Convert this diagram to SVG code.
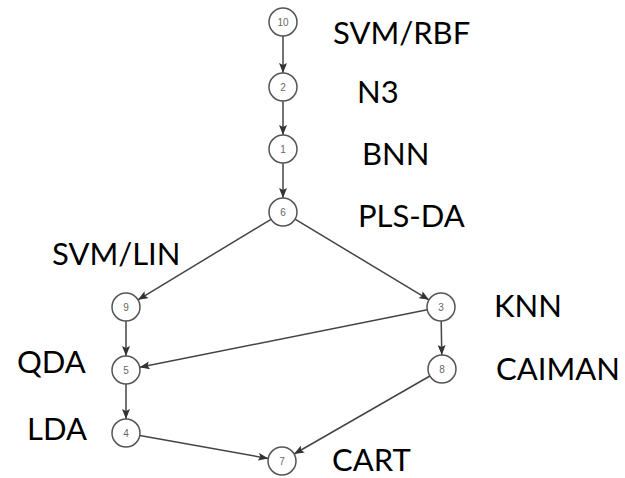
<svg xmlns="http://www.w3.org/2000/svg" width="625" height="478" viewBox="0 0 625 478">
  <style>
    .node circle { fill: #ffffff; stroke: #555555; stroke-width: 1.5; }
    .node text { font-family: "Liberation Sans", Arial, sans-serif; font-size: 10px; fill: #666666; text-anchor: middle; dominant-baseline: central; }
    .edges line { stroke: #444444; stroke-width: 1.5; fill: none; marker-end: url(#arrow); }
    .label { font-family: Lato, "Open Sans", sans-serif; font-size: 31px; fill: #000000; }
  </style>
  <defs>
    <marker id="arrow" markerUnits="userSpaceOnUse" markerWidth="10" markerHeight="8" refX="10" refY="4" orient="auto">
      <path d="M0,0 L10,4 L0,8 L2,4 z" fill="#333333"/>
    </marker>
  </defs>

  <rect width="625" height="478" fill="#ffffff"/>

  <g class="edges">
    <line x1="283" y1="36" x2="283" y2="73"/>
    <line x1="283" y1="101" x2="283" y2="135"/>
    <line x1="283" y1="163" x2="283" y2="198"/>
    <line x1="271" y1="219.3" x2="138" y2="299.8"/>
    <line x1="295" y1="219.2" x2="429" y2="299.8"/>
    <line x1="126" y1="321" x2="126" y2="356"/>
    <line x1="427.3" y1="309.8" x2="139.7" y2="367.3"/>
    <line x1="441.2" y1="321" x2="441.8" y2="355"/>
    <line x1="126" y1="384" x2="126" y2="419"/>
    <line x1="139.8" y1="435.5" x2="268.2" y2="458.5"/>
    <line x1="429.9" y1="376" x2="294.1" y2="454"/>
  </g>

  <g id="node-10" class="node"><circle cx="283" cy="22" r="14"/><text x="283" y="22">10</text></g>
  <g id="node-2" class="node"><circle cx="283" cy="87" r="14"/><text x="283" y="87">2</text></g>
  <g id="node-1" class="node"><circle cx="283" cy="149" r="14"/><text x="283" y="149">1</text></g>
  <g id="node-6" class="node"><circle cx="283" cy="212" r="14"/><text x="283" y="212">6</text></g>
  <g id="node-9" class="node"><circle cx="126" cy="307" r="14"/><text x="126" y="307">9</text></g>
  <g id="node-3" class="node"><circle cx="441" cy="307" r="14"/><text x="441" y="307">3</text></g>
  <g id="node-5" class="node"><circle cx="126" cy="370" r="14"/><text x="126" y="370">5</text></g>
  <g id="node-8" class="node"><circle cx="442" cy="369" r="14"/><text x="442" y="369">8</text></g>
  <g id="node-4" class="node"><circle cx="126" cy="433" r="14"/><text x="126" y="433">4</text></g>
  <g id="node-7" class="node"><circle cx="282" cy="461" r="14"/><text x="282" y="461">7</text></g>

  <g id="labels">
    <text class="label" x="333" y="44">SVM/RBF</text>
    <text class="label" x="357" y="103">N3</text>
    <text class="label" x="362" y="165">BNN</text>
    <text class="label" x="358" y="227">PLS-DA</text>
    <text class="label" x="52" y="265">SVM/LIN</text>
    <text class="label" x="494" y="317">KNN</text>
    <text class="label" x="17" y="373">QDA</text>
    <text class="label" x="496" y="380">CAIMAN</text>
    <text class="label" x="27" y="440">LDA</text>
    <text class="label" x="332" y="471">CART</text>
  </g>
</svg>
